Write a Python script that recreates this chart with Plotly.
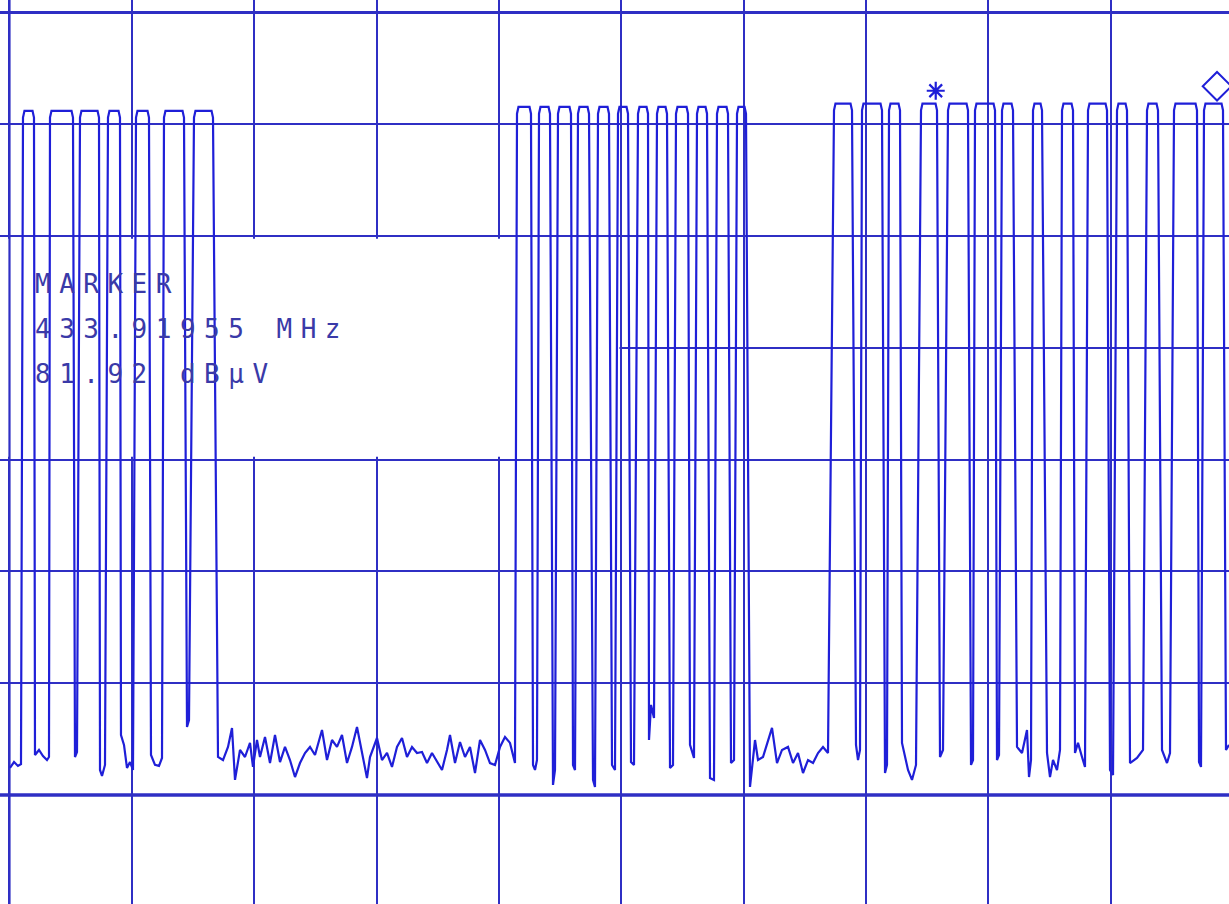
import plotly.graph_objects as go

# ---------------- data (zero-span sweep, time in ms, level in dBµV) ----------------
pulse_on_ms = [1.103, 3.310, 5.762, 8.050, 10.339, 12.627, 15.079,
               41.478, 43.276, 44.829, 46.463, 48.098, 49.733, 51.367, 52.920, 54.473, 56.189, 57.824, 59.459,
               67.386, 69.675, 71.882, 74.497, 76.704, 78.910, 81.117, 83.651, 86.021, 88.146, 90.516, 92.968,
               95.175, 97.626]
pulse_off_ms = [2.002, 5.190, 7.315, 9.031, 11.401, 14.262, 16.632,
                42.622, 44.175, 45.891, 47.363, 48.997, 50.550, 52.185, 53.737, 55.454, 57.007, 58.723, 60.194,
                68.857, 71.309, 72.781, 75.805, 78.338, 80.545, 82.016, 84.386, 86.920, 89.699, 91.333, 93.867,
                97.054, 99.179]
pulse_top_dbuv = [81.2] * 7 + [81.55] * 12 + [81.85] * 14

# low-level trace between the pulses (one segment before each pulse, one after the last)
gap_time_ms = [
    [0.04, 0.37, 0.69, 0.94],
    [2.084, 2.411, 2.738, 3.065, 3.228],
    [5.353, 5.517],
    [7.397, 7.560, 7.805],
    [9.112, 9.358, 9.603, 9.848, 10.094],
    [11.565, 11.892, 12.219, 12.464],
    [14.507, 14.671],
    [17.041, 17.449, 17.858, 18.185, 18.430, 18.839, 19.247, 19.656, 19.901, 20.228, 20.473, 20.882,
     21.291, 21.699, 22.108, 22.517, 22.925, 23.334, 23.743, 24.151, 24.560, 24.969, 25.541, 25.949,
     26.358, 26.767, 27.175, 27.584, 27.993, 28.401, 28.810, 29.218, 29.464, 30.036, 30.444, 30.853,
     31.262, 31.670, 32.079, 32.488, 32.896, 33.305, 33.714, 34.122, 34.531, 34.940, 35.348, 35.757,
     36.002, 36.411, 36.819, 37.228, 37.637, 38.046, 38.454, 38.863, 39.271, 39.680, 40.089, 40.497,
     40.906, 41.314],
    [42.786, 42.949, 43.112],
    [44.420, 44.584],
    [46.055, 46.218],
    [47.690, 47.852],
    [49.242, 49.487],
    [50.795, 51.040],
    [52.266, 52.430, 52.675],
    [53.983, 54.228],
    [55.617, 55.944],
    [57.252, 57.578],
    [58.969, 59.214],
    [60.521, 60.930, 61.175, 61.583, 61.992, 62.319, 62.728, 63.136, 63.627, 64.036, 64.444, 64.853,
     65.262, 65.670, 66.079, 66.487, 66.896],
    [69.184, 69.348, 69.511],
    [71.555, 71.718],
    [72.944, 73.435, 73.761, 74.088],
    [76.050, 76.295],
    [78.584, 78.747],
    [80.708, 80.872],
    [82.343, 82.752, 83.160, 83.324, 83.487],
    [84.795, 85.040, 85.285, 85.612, 85.857],
    [87.083, 87.328, 87.655, 87.900],
    [89.944, 90.189],
    [91.578, 92.150, 92.641],
    [94.193, 94.602, 94.847],
    [97.218, 97.381],
    [99.424, 99.669],
]
gap_level_dbuv = [
    [22.42, 22.95, 22.60, 22.77],
    [23.58, 24.03, 23.49, 23.13, 23.40],
    [23.40, 23.85],
    [22.24, 21.70, 22.69],
    [25.37, 24.48, 22.42, 22.95, 22.24],
    [23.58, 22.69, 22.60, 23.31],
    [26.09, 26.71],
    [23.40, 23.13, 24.30, 26.00, 21.35, 24.03, 23.40, 24.66, 22.51, 24.92, 23.40, 25.19,
     22.86, 25.37, 22.95, 24.30, 23.13, 21.61, 22.86, 23.76, 24.30, 23.58, 25.82, 23.13,
     24.92, 24.30, 25.37, 22.86, 24.30, 26.09, 23.76, 21.52, 23.40, 25.10, 23.13, 23.76,
     22.51, 24.30, 25.10, 23.40, 24.30, 23.76, 23.85, 22.86, 23.76, 22.95, 22.24, 24.03,
     25.37, 22.86, 24.74, 23.40, 24.30, 21.97, 24.92, 24.03, 22.86, 22.69, 24.30, 25.19,
     24.66, 22.86],
    [22.69, 22.24, 23.13],
    [20.90, 22.24],
    [22.69, 22.24],
    [21.35, 20.72],
    [22.69, 22.24],
    [22.95, 22.69],
    [24.92, 28.06, 26.89],
    [22.42, 22.69],
    [24.48, 23.31],
    [21.52, 21.35],
    [22.86, 23.13],
    [20.72, 24.92, 23.13, 23.40, 24.92, 26.00, 22.86, 24.03, 24.30, 22.86, 23.76, 21.97,
     23.13, 22.86, 23.76, 24.30, 23.76],
    [24.48, 23.13, 24.03],
    [21.97, 22.69],
    [24.66, 22.24, 21.35, 22.69],
    [23.40, 24.03],
    [22.69, 23.13],
    [23.13, 23.58],
    [24.30, 23.76, 25.82, 21.61, 23.13],
    [23.76, 21.61, 23.13, 22.24, 24.03],
    [23.76, 24.66, 23.40, 22.51],
    [22.24, 21.79],
    [22.86, 23.31, 24.03],
    [24.03, 22.86, 23.76],
    [22.95, 22.51],
    [24.03, 24.48],
]

marker_freq_mhz = "433.91955"
marker_level = 81.92
marker1_ms, marker1_db = 75.7, 83.0      # '*' marker
marker2_ms, marker2_db = 98.69, 83.4     # diamond marker

ref_level = 90       # top graticule line, dBµV
db_per_div = 10
ms_per_div = 10

# ---------------- build trace vertex list ----------------
t, v = [], []
for i in range(len(gap_time_ms)):
    t += gap_time_ms[i]
    v += gap_level_dbuv[i]
    if i < len(pulse_on_ms):
        on, off, top = pulse_on_ms[i], pulse_off_ms[i], pulse_top_dbuv[i]
        t += [on, on + 0.12, off - 0.12, off]
        v += [top - 0.6, top, top, top - 0.6]

TRACE = "#1f1fd8"
GRID = "#2f2fc4"
TEXT = "#3a3aa8"
X_MIN, X_MAX = -0.776, 99.669
Y_MIN, Y_MAX = 10.25, 91.118

fig = go.Figure()
fig.add_trace(go.Scatter(x=t, y=v, mode="lines",
                         line=dict(color=TRACE, width=2.2), hoverinfo="skip"))
fig.add_trace(go.Scatter(x=[marker1_ms], y=[marker1_db], mode="markers",
                         marker=dict(symbol="asterisk-open", size=15, color=TRACE,
                                     line=dict(color=TRACE, width=2.2)), hoverinfo="skip"))
fig.add_trace(go.Scatter(x=[marker2_ms], y=[marker2_db], mode="markers",
                         marker=dict(symbol="diamond-open", size=22, color=TRACE,
                                     line=dict(color=TRACE, width=2)), hoverinfo="skip"))

# blanked area behind marker read-out (hides graticule but not the trace)
fig.add_shape(type="rect", xref="x", yref="y", x0=X_MIN - 1, x1=5 * ms_per_div - 0.15,
              y0=ref_level - 4 * db_per_div + 0.25, y1=ref_level - 2 * db_per_div - 0.25,
              fillcolor="white", line=dict(width=0), layer="between")
# left frame
fig.add_shape(type="line", xref="x", yref="y", x0=0, x1=0, y0=Y_MIN - 1, y1=Y_MAX + 1,
              line=dict(color=GRID, width=2.2), layer="between")
# heavier display line at 20 dBµV
fig.add_shape(type="line", xref="x", yref="y", x0=X_MIN - 1, x1=X_MAX + 1, y0=20, y1=20,
              line=dict(color=GRID, width=3.5), layer="between")
# top frame
fig.add_shape(type="line", xref="x", yref="y", x0=X_MIN - 1, x1=X_MAX + 1, y0=ref_level, y1=ref_level,
              line=dict(color=GRID, width=2.8), layer="between")

sp = "letter-spacing:8.5px"
lines = ["MARKER", f"{marker_freq_mhz} MHz", f"{marker_level:.2f} dBµV"]
ys = [65.71, 61.69, 57.66]
for txt, yy in zip(lines, ys):
    fig.add_annotation(x=1.92, y=yy, xref="x", yref="y", xanchor="left", yanchor="middle",
                       text=f"<span style='{sp}'>{txt}</span>", showarrow=False,
                       font=dict(family="DejaVu Sans Mono", size=26, color=TEXT))

fig.update_layout(
    width=1229, height=904,
    margin=dict(l=0, r=0, t=0, b=0, pad=0),
    paper_bgcolor="white", plot_bgcolor="white",
    showlegend=False,
    xaxis=dict(range=[X_MIN, X_MAX], tick0=0, dtick=ms_per_div, showgrid=True,
               gridcolor=GRID, gridwidth=2, zeroline=False, showticklabels=False,
               ticks="", showline=False),
    yaxis=dict(range=[Y_MIN, Y_MAX], tick0=0, dtick=db_per_div, showgrid=True,
               gridcolor=GRID, gridwidth=2, zeroline=False, showticklabels=False,
               ticks="", showline=False),
)

fig.write_html("out.html", config={"displayModeBar": False},
               post_script="document.body.style.margin='0px';document.body.style.overflow='hidden';")
